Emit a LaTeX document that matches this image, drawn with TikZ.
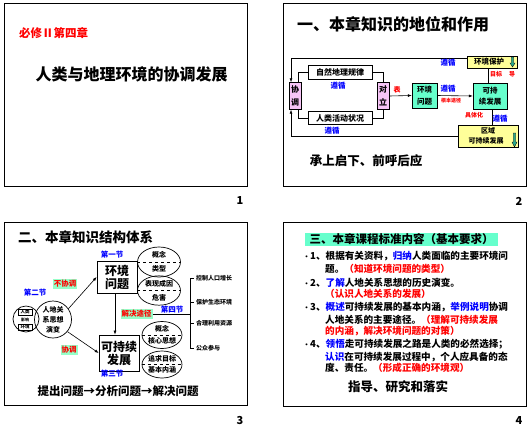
\documentclass[tikz,border=0pt]{standalone}
\usepackage{fontspec}
\setmainfont{Noto Sans CJK SC}
\usetikzlibrary{arrows.meta,shapes.geometric}
\definecolor{pinkfill}{RGB}{246,196,246}
\definecolor{aqua}{RGB}{102,255,204}
\definecolor{lightaqua}{RGB}{150,255,200}
\definecolor{paleyellow}{RGB}{255,255,153}
\definecolor{iconteal}{RGB}{40,170,140}
\newcommand{\setfs}[1]{\fontsize{#1}{#1}\selectfont}
\newcommand{\itemdot}{\makebox[7pt][l]{\setfs{7}•}}
\newcommand{\blu}[1]{{\color{blue}#1}}
\newcommand{\rd}[1]{{\color{red}#1}}
\begin{document}
\begin{tikzpicture}[
        x=1pt, y=-1pt,
        >={Latex[length=4pt,width=3pt]},
        slide/.style={draw, line width=0.9pt},
        pagenum/.style={font=\bfseries\setfs{11}},
        heading/.style={anchor=west, inner sep=0, font=\bfseries\setfs{16}},
        pinkbox/.style={draw, fill=pinkfill, minimum width=12, minimum height=27, inner sep=0, align=center, font=\bfseries\setfs{8}},
        plainbox/.style={draw, fill=white, minimum width=64, inner sep=0, font=\bfseries\setfs{8}},
        greenbox/.style={draw, fill=aqua, inner sep=0, align=center, font=\bfseries\setfs{7.5}},
        yellowbox/.style={draw, fill=paleyellow, inner sep=0, align=center, font=\bfseries\setfs{7.5}},
        downicon/.style={draw=black, line width=0.3pt, fill=iconteal},
        bluelbl/.style={text=blue, inner sep=0, font=\bfseries\setfs{7.5}},
        redlbl/.style={text=red, inner sep=0, font=\bfseries\setfs{6}},
        motto/.style={inner sep=0, font=\bfseries\setfs{12.5}},
        topicbox/.style={draw, fill=white, line width=0.7pt, inner sep=0, align=center, font=\bfseries\setfs{12}},
        oval/.style={ellipse, draw, line width=0.7pt, inner sep=0, align=center, font=\bfseries\setfs{7}},
        tag/.style={fill=lightaqua, text=red, inner sep=1pt, font=\bfseries\setfs{7.5}},
        minibox/.style={draw, inner sep=0, minimum width=14, minimum height=6, font=\bfseries\setfs{4.5}},
        branch/.style={anchor=west, inner sep=0, font=\bfseries\setfs{6}},
        item/.style={anchor=west, inner sep=0, font=\bfseries\setfs{9.6}},
        line/.style={line width=0.6pt}
    ]
        \useasboundingbox (0,0) rectangle (529,426);

        % Slide 1: title page
        \draw[slide] (4,3) rectangle (247,186);
        \node[anchor=west, inner sep=0, text=red, font=\bfseries\setfs{11.5}] (chapter) at (19,33) {必修Ⅱ第四章};
        \node[inner sep=0, font=\bfseries\setfs{16}] (main_title) at (131.5,74) {人类与地理环境的协调发展};
        \node[pagenum] (page_one) at (240,201) {1};

        % Slide 2: position and role
        \draw[slide] (283,3) rectangle (526,186);
        \node[heading] (title_two) at (297,24) {一、本章知识的地位和作用};
        \node[pinkbox] (harmony) at (295,96) {协\\[5pt]调};
        \node[pinkbox] (conflict) at (383,96) {对\\[5pt]立};
        \node[plainbox, minimum height=14] (nature_law) at (340,72) {自然地理规律};
        \node[plainbox, minimum height=13] (human_act) at (340,118) {人类活动状况};
        \node[greenbox, minimum width=25, minimum height=25] (env_issue) at (424.5,95.5) {环境\\[4pt]问题};
        \node[greenbox, minimum width=34, minimum height=26] (sust_dev) at (490,96) {可持\\[3pt]续发展};
        \node[yellowbox, minimum width=50, minimum height=12] (protect) at (492,62) {环境保护\hspace*{6pt}};
        \node[yellowbox, minimum width=60, minimum height=22, font=\bfseries\setfs{7}] (region_dev) at (488,136) {区域\\[3pt]可持续发展\hspace*{4pt}};
        % small down arrows inside the yellow boxes
        \filldraw[downicon] (511.3,57) -- (513.7,57) -- (513.7,63) -- (515,63) -- (512.5,67) -- (510,63) -- (511.3,63) -- cycle;
        \filldraw[downicon] (513.3,133) -- (515.7,133) -- (515.7,142) -- (517,142) -- (514.5,147) -- (512,142) -- (513.3,142) -- cycle;

        % loop between the two boxes
        \draw[line] ([xshift=3pt]harmony.north) |- (nature_law.west);
        \draw[line] (nature_law.east) -| (conflict.north);
        \draw[line] ([xshift=3pt]harmony.south) |- (human_act.west);
        \draw[line] (human_act.east) -| (conflict.south);
        % feedback lines
        \draw[line, ->] ([yshift=4pt]protect.west) -| ([xshift=-4pt]harmony.north);
        \draw[line, ->] (region_dev.west) -| ([xshift=-4pt]harmony.south);
        \draw[line, ->] (conflict.east) -- (env_issue.west);
        \draw[line, ->] (env_issue.east) -- (sust_dev.west);
        \draw[line] ([xshift=-2pt]sust_dev.north) -- ([xshift=-2pt]sust_dev.north |- protect.south);
        \draw[line] ([xshift=2pt]sust_dev.south) -- ([xshift=2pt]sust_dev.south |- region_dev.north);

        \node[bluelbl] (obey_a) at (338,86) {遵循};
        \node[bluelbl] (obey_b) at (332,131) {遵循};
        \node[bluelbl] (obey_c) at (448,63) {遵循};
        \node[bluelbl] (obey_d) at (448,89) {遵循};
        \node[bluelbl] (obey_e) at (500,119) {遵循};
        \node[redlbl, font=\bfseries\setfs{7}] (appear) at (397,90) {表};
        \node[redlbl, font=\bfseries\setfs{5}] (basic_way) at (451,101) {根本途径};
        \node[redlbl] (goal) at (496,74) {目标};
        \node[redlbl] (guide) at (512,74) {导};
        \node[redlbl] (concrete) at (474,115) {具体化};
        \node[motto] (motto_two) at (366,161) {承上启下、前呼后应};
        \node[pagenum] (page_two) at (519,201) {2};

        % Slide 3: knowledge structure
        \draw[slide] (4,222) rectangle (247,405);
        \node[heading, font=\bfseries\setfs{13.5}] (title_three) at (18,237) {二、本章知识结构体系};
        \node[topicbox, minimum width=40, minimum height=32] (env_problem) at (117,277) {环境\\[1pt]问题};
        \node[topicbox, minimum width=40, minimum height=36] (sustain) at (119,353) {可持续\\[1pt]发展};
        \node[oval, minimum width=43, minimum height=30] (oval_a) at (159,262) {概念\\[7pt]类型};
        \node[oval, minimum width=43, minimum height=28] (oval_b) at (159,290.5) {表现成因\\[7pt]危害};
        \node[oval, minimum width=40, minimum height=27] (oval_c) at (162,335) {概念\\[5pt]核心思想};
        \node[oval, minimum width=40, minimum height=27] (oval_d) at (162,364.5) {追求目标\\[4pt]基本内涵};
        \draw[dashed] (oval_a.west) -- (oval_a.east);
        \draw[dashed] (oval_b.west) -- (oval_b.east);
        \draw[dashed] (oval_c.west) -- (oval_c.east);
        \draw[dashed] (oval_d.west) -- (oval_d.east);

        % left circles
        \node[circle, draw, line width=0.7pt, minimum size=26, inner sep=0] (small_circle) at (26,319) {};
        \node[minibox] (mini_human) at (25,312) {人类};
        \node[minibox] (mini_env) at (25,327) {环境};
        \node[inner sep=0, font=\bfseries\setfs{4}] (mini_link) at (25,319.5) {影响};
        \node[circle, draw, line width=0.7pt, minimum size=37, inner sep=0, align=center, font=\bfseries\setfs{7}] (big_circle) at (53,319.5) {人地关\\[3pt]系思想\\[3pt]演变};

        \draw[line, ->] (big_circle.35) -- (env_problem.west);
        \draw[line, ->] (big_circle.-40) -- (sustain.west);
        \draw[line, ->] ([xshift=-2pt]env_problem.south) -- ([xshift=-2pt]env_problem.south |- sustain.north);
        \node[tag] (unbalanced) at (65,284) {不协调};
        \node[tag] (balanced) at (69,350) {协调};
        \node[tag] (solve_way) at (136.5,314) {解决途径};

        % bracket with the four ways
        \draw[line] (solve_way.east) -- (190,314);
        \draw[line] (190,278) -- (190,348);
        \foreach \y in {278,302,323,348}
            \draw[line] (190,\y) -- (194,\y);
        \node[branch] (way_a) at (196,278) {控制人口增长};
        \node[branch] (way_b) at (196,302) {保护生态环境};
        \node[branch] (way_c) at (196,323) {合理利用资源};
        \node[branch] (way_d) at (196,348) {公众参与};

        \node[bluelbl] (sec_one) at (112,255) {第一节};
        \node[bluelbl] (sec_two) at (35,293) {第二节};
        \node[bluelbl] (sec_three) at (112,374) {第三节};
        \node[bluelbl] (sec_four) at (172,310) {第四节};
        \node[motto, font=\bfseries\setfs{11.5}] (motto_three) at (118,391) {提出问题→分析问题→解决问题};
        \node[pagenum] (page_three) at (240,420) {3};

        % Slide 4: curriculum standards
        \draw[slide] (283,222) rectangle (526,406);
        \node[fill=aqua, minimum width=193, minimum height=13, inner sep=0, font=\bfseries\setfs{11.5}] (title_four) at (401.5,239) {三、本章课程标准内容（基本要求）};
        \node[item] (req_1a) at (303,256) {\itemdot 1、根据有关资料，\blu{归纳}人类面临的主要环境问};
        \node[item] (req_1b) at (325,269) {题。\rd{（知道环境问题的类型）}};
        \node[item] (req_2a) at (303,283) {\itemdot 2、\blu{了解}人地关系思想的历史演变。};
        \node[item] (req_2b) at (325,293.5) {\rd{（认识人地关系的发展）}};
        \node[item] (req_3a) at (303,307) {\itemdot 3、\blu{概述}可持续发展的基本内涵，\blu{举例说明}协调};
        \node[item] (req_3b) at (325,320) {人地关系的主要途径。\rd{（理解可持续发展}};
        \node[item] (req_3c) at (325,331) {\rd{的内涵，解决环境问题的对策）}};
        \node[item] (req_4a) at (303,344) {\itemdot 4、\blu{领悟}走可持续发展之路是人类的必然选择；};
        \node[item] (req_4b) at (325,357) {\blu{认识}在可持续发展过程中，个人应具备的态};
        \node[item] (req_4c) at (325,368) {度、责任。\rd{（形成正确的环境观）}};
        \node[motto] (motto_four) at (398,387) {指导、研究和落实};
        \node[pagenum] (page_four) at (519,420) {4};

    \end{tikzpicture}
\end{document}
